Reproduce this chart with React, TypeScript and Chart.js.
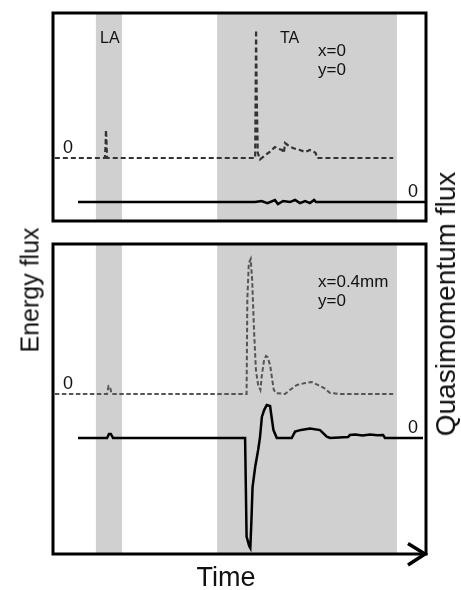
import React, { useEffect, useRef } from "react";
import { Chart, registerables } from "chart.js";

Chart.register(...registerables);

// ---- data (time in arbitrary units 0..100, fluxes normalised) ----
const timeRange = [0, 100];
const bandLA = [11.5, 18.5];
const bandTA = [44.0, 92.2];
const bandLabels = ["LA", "TA"];

const topEnergy: [number, number][] = [
  [0.5, 0], [13.9, 0], [14.1, 0.1], [14.2, 0.22], [14.35, 0.12], [14.5, 0],
  [54.2, 0], [54.45, 1.0], [54.6, 0.5], [54.9, 0.04], [55.5, -0.01], [56.8, 0.02],
  [58.2, 0.05], [59.5, 0.086], [60.6, 0.07], [61.4, 0.0625], [61.9, 0.04], [62.2, 0.117],
  [63.0, 0.1], [64.3, 0.078], [65.2, 0.07], [66.2, 0.0625], [67.6, 0.047], [68.9, 0.0625],
  [70.0, 0.047], [70.4, 0.04], [70.8, 0], [91.2, 0],
];
const topQuasi: [number, number][] = [
  [6.7, 0], [54.2, 0], [55.9, 0.008], [57.5, -0.008], [59.5, 0.016], [60.3, -0.016],
  [61.7, 0.008], [63.5, 0], [64.9, 0.016], [66.2, -0.008], [67.6, 0.008], [68.9, -0.008],
  [70.0, 0.016], [70.5, 0], [100, 0],
];
const bottomEnergy: [number, number][] = [
  [0.5, 0], [14.5, 0], [14.9, 0.059], [15.3, 0.052], [15.7, 0], [51.9, 0],
  [52.1, 0.7], [52.5, 0.97], [53.0, 1.0], [53.4, 0.84], [53.9, 0.47], [54.4, 0.178],
  [55.0, 0.067], [55.6, 0.03], [56.0, 0.141], [56.6, 0.252], [57.1, 0.281], [57.5, 0.274],
  [58.2, 0.215], [58.7, 0.119], [59.2, 0.03], [59.8, 0.007], [62.2, 0], [63.5, 0.03],
  [65.4, 0.067], [67.6, 0.081], [69.4, 0.089], [71.0, 0.067], [72.7, 0.044], [74.3, 0.007],
  [76.9, 0], [91.2, 0],
];
const bottomQuasi: [number, number][] = [
  [6.7, 0], [14.5, 0], [15.0, 0.03], [15.5, 0.03], [16.1, 0], [51.5, 0],
  [51.9, -0.73], [52.6, -0.8], [52.9, -0.815], [53.2, -0.607], [53.5, -0.363], [54.2, -0.215],
  [55.0, -0.089], [55.5, 0.007], [56.0, 0.156], [56.6, 0.207], [57.3, 0.244], [58.2, 0.237],
  [58.6, 0.156], [59.1, 0.059], [60.0, 0], [64.0, 0], [64.9, 0.047], [66.5, 0.06],
  [68.9, 0.07], [71.6, 0.059], [73.4, 0.01], [74.3, 0], [79.1, 0.007], [79.6, 0.022],
  [81, 0.026], [83, 0.018], [85, 0.026], [87, 0.02], [88.5, 0.022], [89.0, 0], [99.2, 0],
];

const topEnergyRange = [-0.492, 1.133];
const topQuasiRange = [-0.148, 1.477];
const bottomEnergyRange = [-1.185, 1.111];
const bottomQuasiRange = [-0.859, 1.437];

const topPosition = ["x=0", "y=0"];
const bottomPosition = ["x=0.4mm", "y=0"];
const zeroTick = "0";
const leftTitle = "Energy flux";
const rightTitle = "Quasimomentum flux";
const bottomTitle = "Time";

const FONT = '"Liberation Sans", Arial, Helvetica, sans-serif';

const toPoints = (arr: [number, number][]) => arr.map(([x, y]) => ({ x, y }));

type PanelCfg = {
  energy: [number, number][];
  quasi: [number, number][];
  eRange: number[];
  qRange: number[];
  position: string[];
  showBandLabels: boolean;
  arrow: boolean;
  padding: { left: number; right: number; top: number; bottom: number };
  dashColor: string;
  dashWidth: number;
  dash: number[];
};

function makePlugin(cfg: PanelCfg) {
  return {
    id: "panelDeco",
    beforeDatasetsDraw(chart: any) {
      const { ctx, chartArea, scales } = chart;
      const xs = scales.x;
      ctx.save();
      ctx.fillStyle = "#d0d0d0";
      [bandLA, bandTA].forEach((b) => {
        const x0 = xs.getPixelForValue(b[0]);
        const x1 = xs.getPixelForValue(b[1]);
        ctx.fillRect(x0, chartArea.top, x1 - x0, chartArea.bottom - chartArea.top);
      });
      ctx.restore();
    },
    afterDraw(chart: any) {
      const { ctx, chartArea, scales } = chart;
      const { left, right, top, bottom } = chartArea;
      const xs = scales.x;
      ctx.save();
      // frame
      ctx.strokeStyle = "#000";
      ctx.lineWidth = 3;
      ctx.lineCap = "butt";
      ctx.lineJoin = "miter";
      ctx.strokeRect(left, top, right - left, bottom - top);
      if (cfg.arrow) {
        ctx.lineWidth = 3.5;
        ctx.beginPath();
        ctx.moveTo(right - 18, bottom - 10.5);
        ctx.lineTo(right - 1, bottom);
        ctx.lineTo(right - 18, bottom + 11);
        ctx.stroke();
      }
      // zero labels
      ctx.fillStyle = "#111";
      ctx.font = `18px ${FONT}`;
      ctx.textAlign = "center";
      ctx.textBaseline = "alphabetic";
      ctx.fillText(zeroTick, left + 15, scales.y.getPixelForValue(0) - 5.5);
      ctx.fillText(zeroTick, right - 13, scales.y2.getPixelForValue(0) - 5.5);
      // band labels
      if (cfg.showBandLabels) {
        ctx.font = `16px ${FONT}`;
        ctx.fillText(bandLabels[0], xs.getPixelForValue(bandLA[0]) + 14, top + 29.5);
        ctx.fillText(bandLabels[1], xs.getPixelForValue(bandTA[0]) + 72.5, top + 29.5);
      }
      // position annotation
      ctx.font = `17px ${FONT}`;
      ctx.textAlign = "left";
      ctx.fillText(cfg.position[0], right - 108, top + 43);
      ctx.fillText(cfg.position[1], right - 108, top + 61.5);
      ctx.restore();
    },
  };
}

function Panel({ cfg, width, height }: { cfg: PanelCfg; width: number; height: number }) {
  const ref = useRef<HTMLCanvasElement | null>(null);
  useEffect(() => {
    if (!ref.current) return;
    const chart = new Chart(ref.current, {
      type: "line",
      data: {
        datasets: [
          {
            data: toPoints(cfg.energy),
            yAxisID: "y",
            borderColor: cfg.dashColor,
            borderWidth: cfg.dashWidth,
            borderDash: cfg.dash,
            pointRadius: 0,
            tension: 0,
            fill: false,
          },
          {
            data: toPoints(cfg.quasi),
            yAxisID: "y2",
            borderColor: "#000",
            borderWidth: 2.5,
            pointRadius: 0,
            tension: 0,
            fill: false,
          },
        ],
      },
      options: {
        responsive: false,
        animation: false,
        devicePixelRatio: 1,
        parsing: true as any,
        layout: { padding: cfg.padding },
        plugins: { legend: { display: false }, tooltip: { enabled: false }, title: { display: false } },
        events: [],
        scales: {
          x: { type: "linear", min: timeRange[0], max: timeRange[1], display: false },
          y: { type: "linear", min: cfg.eRange[0], max: cfg.eRange[1], display: false },
          y2: { type: "linear", min: cfg.qRange[0], max: cfg.qRange[1], display: false },
        },
      },
      plugins: [makePlugin(cfg)],
    });
    return () => chart.destroy();
  }, []);
  return <canvas ref={ref} width={width} height={height} style={{ display: "block", width, height }} />;
}

const topCfg: PanelCfg = {
  energy: topEnergy,
  quasi: topQuasi,
  eRange: topEnergyRange,
  qRange: topQuasiRange,
  position: topPosition,
  showBandLabels: true,
  arrow: false,
  padding: { left: 53, right: 35, top: 13, bottom: 14 },
  dashColor: "#333",
  dashWidth: 2.2,
  dash: [5, 3],
};

const bottomCfg: PanelCfg = {
  energy: bottomEnergy,
  quasi: bottomQuasi,
  eRange: bottomEnergyRange,
  qRange: bottomQuasiRange,
  position: bottomPosition,
  showBandLabels: false,
  arrow: true,
  padding: { left: 53, right: 35, top: 9, bottom: 36 },
  dashColor: "#555",
  dashWidth: 2,
  dash: [4.5, 2.5],
};

export default function App() {
  const textStyle: React.CSSProperties = {
    position: "absolute",
    fontFamily: FONT,
    color: "#111",
    lineHeight: 1,
    whiteSpace: "nowrap",
    transform: "translate(-50%, -50%) rotate(-90deg)",
  };
  return (
    <div style={{ position: "absolute", left: 0, top: 0, width: 461, height: 590, background: "#fff", overflow: "hidden" }}>
      <div style={{ position: "absolute", left: 0, top: 0 }}>
        <Panel cfg={topCfg} width={461} height={235} />
      </div>
      <div style={{ position: "absolute", left: 0, top: 235 }}>
        <Panel cfg={bottomCfg} width={461} height={355} />
      </div>
      <div style={{ ...textStyle, left: 29.6, top: 289.5, fontSize: 25 }}>{leftTitle}</div>
      <div style={{ ...textStyle, left: 445.7, top: 303.5, fontSize: 28 }}>{rightTitle}</div>
      <div
        style={{
          position: "absolute",
          fontFamily: FONT,
          color: "#111",
          lineHeight: 1,
          whiteSpace: "nowrap",
          left: 226,
          top: 577.2,
          fontSize: 27,
          transform: "translate(-50%, -50%)",
        }}
      >
        {bottomTitle}
      </div>
    </div>
  );
}
